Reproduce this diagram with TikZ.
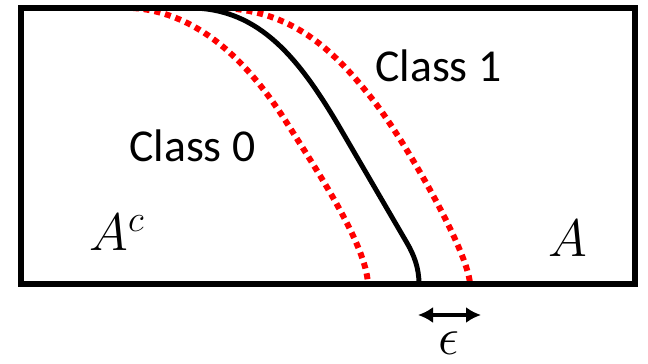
\documentclass[tikz,border=0pt]{standalone}
\usepackage{fix-cm}
\usepackage{fontspec}
\setmainfont{Carlito}
\usepackage{tikz}
\usetikzlibrary{arrows.meta}

\begin{document}
\begin{tikzpicture}[
    x=0.02cm, y=-0.02cm,
    frame/.style={draw=black, line width=3.4pt},
    boundary/.style={draw=black, line width=2.8pt},
    margin/.style={draw=red, line width=3.4pt, dash pattern=on 3.4pt off 2.8pt},
    classlabel/.style={anchor=base west, inner sep=0pt, font=\fontsize{26}{30}\selectfont},
    setlabel/.style={anchor=base west, inner sep=0pt, font=\fontsize{30}{34}\selectfont},
    epsarrow/.style={{Latex[length=0.3cm,width=0.32cm]}-{Latex[length=0.3cm,width=0.32cm]}, line width=2.2pt}
]
\useasboundingbox (0,0) rectangle (648,364);

% margins around the boundary
\draw[margin] (133,8) .. controls (190,12) and (240,50) .. (285,120)
    .. controls (320,175) and (366,245) .. (368,284);
\draw[margin] (225,8) .. controls (290,12) and (330,45) .. (373,100)
    .. controls (403,138) and (468,250) .. (470,284);

% decision boundary
\draw[boundary] (130,8) -- (190,8) .. controls (260,8) and (300,60) .. (340,128)
    -- (407,243) .. controls (414,255) and (419,268) .. (419,284);

% domain
\draw[frame] (21,8) rectangle (635,284);

% labels
\node[classlabel] (classone) at (375,82) {Class 1};
\node[classlabel] (classzero) at (129,162) {Class 0};
\node[setlabel] (acomp) at (89,251) {$A^c$};
\node[setlabel] (aset) at (548,256) {$A$};

% epsilon width
\coordinate (epsleft) at (418,315);
\coordinate (epsright) at (481,315);
\draw[epsarrow] (epsleft) -- (epsright);
\node[setlabel] (eps) at (438,354) {$\epsilon$};

\end{tikzpicture}
\end{document}
